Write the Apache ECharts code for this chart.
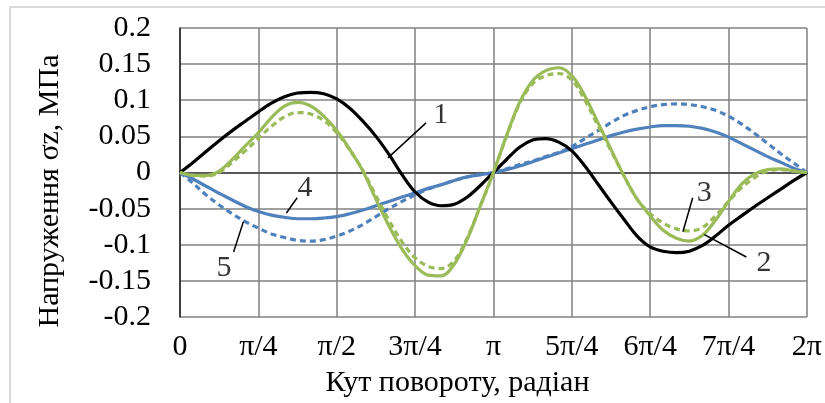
<!DOCTYPE html>
<html><head><meta charset="utf-8">
<script src="https://cdn.jsdelivr.net/npm/echarts@6/dist/echarts.min.js"></script>
<style>html,body{margin:0;padding:0;background:#fff}#c{width:825px;height:403px}</style>
</head><body><div id="c"></div>
<script>
// angle in degrees (0..360, step 7.5)
var angles = [0,7.5,15,22.5,30,37.5,45,52.5,60,67.5,75,82.5,90,97.5,105,112.5,120,127.5,135,142.5,150,157.5,165,172.5,
  180,187.5,195,202.5,210,217.5,225,232.5,240,247.5,255,262.5,270,277.5,285,292.5,300,307.5,315,322.5,330,337.5,345,352.5,360];
var xTickLabels = ['0','π/4','π/2','3π/4','π','5π/4','6π/4','7π/4','2π'];
var curve1 = [0,0.014,0.029,0.044,0.058,0.071,0.084,0.096,0.105,0.11,0.111,0.109,0.102,0.089,0.071,0.05,0.025,-0.003,-0.027,-0.041,-0.046,-0.044,-0.034,-0.018,
  0,0.018,0.035,0.045,0.047,0.042,0.03,0.009,-0.016,-0.041,-0.065,-0.088,-0.103,-0.109,-0.111,-0.109,-0.101,-0.088,-0.073,-0.06,-0.047,-0.035,-0.023,-0.011,0];
var curve2 = [0,-0.004,-0.004,0.002,0.018,0.037,0.055,0.076,0.092,0.097,0.092,0.078,0.058,0.032,0.002,-0.037,-0.074,-0.106,-0.129,-0.142,-0.143,-0.127,-0.092,-0.046,
  0,0.051,0.097,0.127,0.141,0.145,0.134,0.106,0.069,0.032,-0.005,-0.037,-0.06,-0.08,-0.091,-0.095,-0.087,-0.066,-0.04,-0.016,-0.002,0.004,0.005,0.002,0];
var curve3 = [0,-0.004,-0.005,0,0.014,0.03,0.047,0.064,0.077,0.083,0.081,0.072,0.055,0.031,0.003,-0.032,-0.066,-0.096,-0.118,-0.13,-0.133,-0.122,-0.09,-0.046,
  0,0.05,0.095,0.123,0.134,0.137,0.128,0.1,0.065,0.03,-0.005,-0.037,-0.057,-0.07,-0.078,-0.081,-0.076,-0.06,-0.04,-0.021,-0.007,0.002,0.004,0.002,0];
var curve4 = [0,-0.009,-0.019,-0.029,-0.038,-0.047,-0.054,-0.059,-0.062,-0.064,-0.064,-0.063,-0.061,-0.057,-0.052,-0.046,-0.04,-0.034,-0.028,-0.022,-0.017,-0.011,-0.006,-0.003,
  0,0.004,0.009,0.015,0.021,0.027,0.033,0.039,0.045,0.051,0.056,0.06,0.063,0.065,0.065,0.064,0.061,0.056,0.049,0.04,0.031,0.022,0.014,0.006,0];
var curve5 = [0,-0.015,-0.031,-0.045,-0.057,-0.068,-0.077,-0.085,-0.09,-0.094,-0.095,-0.093,-0.088,-0.081,-0.072,-0.061,-0.05,-0.04,-0.031,-0.023,-0.017,-0.011,-0.006,-0.003,
  0,0.005,0.011,0.016,0.022,0.028,0.036,0.047,0.058,0.069,0.079,0.086,0.091,0.094,0.095,0.094,0.091,0.086,0.078,0.067,0.054,0.04,0.026,0.013,0];
var yTitle = 'Напруження σz, МПа';
var xTitle = 'Кут повороту, радіан';
// annotations: label, text pos [deg,val], leader from, leader to (data coordinates)
var notes = [
  ['1',[149.7,0.08],[141.3,0.0687],[119.4,0.0203]],
  ['4',[71.8,-0.021],[67.3,-0.035],[61.1,-0.056]],
  ['5',[25.2,-0.133],[36.4,-0.068],[30.8,-0.11]],
  ['3',[301.1,-0.028],[294.4,-0.035],[288.8,-0.082]],
  ['2',[335.3,-0.125],[301.1,-0.086],[325.2,-0.117]]
];
function pairs(v){return angles.map(function(a,i){return [a,v[i]];});}
var FONT='serif';
var FS=30;
var green='#9bbb59', blue='#4f81bd';
function ser(d,color,dashed,z){
  return {type:'line',data:pairs(d),smooth:0.35,symbol:'none',z:z,silent:true,
    lineStyle:{color:color,width:3.2,type:dashed?[6,4]:'solid'}};
}
var series=[
  ser(curve4,blue,false,2),
  ser(curve5,blue,true,2),
  ser(curve1,'#000',false,3),
  ser(curve3,green,true,4),
  ser(curve2,green,false,5)
];
notes.forEach(function(n){
  series.push({type:'line',data:[n[2],n[3]],symbol:'none',silent:true,z:10,
    lineStyle:{color:'#000',width:1.5}});
});
series.push({type:'scatter',silent:true,z:11,symbolSize:0,
  data:notes.map(function(n){return [n[1][0],n[1][1],n[0]];}),
  label:{show:true,position:'inside',color:'#000',fontFamily:FONT,fontSize:FS,
    formatter:function(p){return p.value[2];}}});
var chart = echarts.init(document.getElementById('c'));
chart.setOption({
  animation:false,
  grid:{left:180,top:28,right:3,bottom:86},
  xAxis:{type:'value',min:0,max:360,interval:45,
    axisLine:{lineStyle:{color:'#404040',width:1.5}},axisTick:{show:false},
    splitLine:{show:true,lineStyle:{color:'#808080',width:1.5}},
    axisLabel:{color:'#000',fontFamily:FONT,fontSize:FS,margin:15,
      formatter:function(v){return xTickLabels[Math.round(v/45)];}},
    name:xTitle,nameLocation:'middle',nameGap:51,
    nameTextStyle:{color:'#000',fontFamily:FONT,fontSize:FS,padding:[0,72,0,0]}},
  yAxis:{type:'value',min:-0.2,max:0.2,interval:0.05,
    axisLine:{show:true,lineStyle:{color:'#202020',width:1.5}},axisTick:{show:false},
    splitLine:{show:true,lineStyle:{color:'#808080',width:1.5}},
    axisLabel:{color:'#000',fontFamily:FONT,fontSize:FS,margin:29,
      formatter:function(v){return String(parseFloat(v.toFixed(2)));}},
    name:yTitle,nameLocation:'middle',nameGap:115,
    nameTextStyle:{color:'#000',fontFamily:FONT,fontSize:FS,padding:[0,37,0,0]}},
  graphic:[{type:'rect',shape:{x:10,y:7,width:830,height:420},style:{fill:'none',stroke:'#d9d9d9',lineWidth:2},z:-1}],
  series:series
});
</script></body></html>
